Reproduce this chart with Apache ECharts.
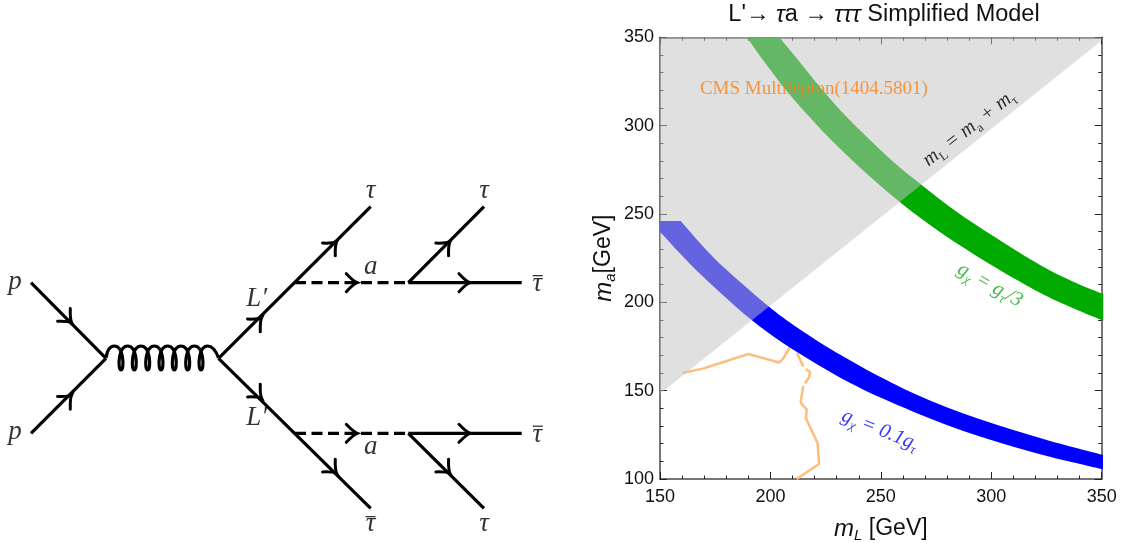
<!DOCTYPE html>
<html><head><meta charset="utf-8">
<style>html,body{margin:0;padding:0;background:#fff}#c{width:1123px;height:543px}</style>
<script src="https://cdn.jsdelivr.net/npm/echarts@6/dist/echarts.min.js"></script></head>
<body><div id="c"></div>
<script>
const ticksMajor = 50;
const greenUpper = [[204,350],[211.9,338.1],[221,324],[231.5,308.9],[242.8,294.7],[255.6,279.6],[268.5,266.4],[284.3,251.3],[302.5,236.2],[322.1,221.1],[337.1,211.7],[350.7,204.7]];
const greenLower = [[189.3,350],[198.3,334.3],[208.9,317.3],[221,300.4],[233,285.2],[245.9,270.2],[258.7,256.6],[269.2,246.6],[284.3,233.4],[302.5,219.3],[322.1,205.4],[337.1,196.6],[350.7,189.6]];
const blueUpper = [[150,246],[159.4,246],[169.6,231.5],[180.2,218.3],[199,197.9],[210.4,187.2],[225.5,174.9],[240.6,164],[249.6,157.9],[264.7,148.5],[279.8,140.6],[294.9,133.8],[310,127.7],[325.1,122.1],[340.2,117],[350.6,113.6]];
const blueLower = [[150,240],[159.1,227.7],[168.1,216.2],[178.7,203.9],[191.5,190],[205.8,176.8],[222.4,164],[237.5,153.5],[249.6,146.2],[264.7,138.1],[279.8,130.6],[294.9,124],[310,118.3],[325.1,113],[340.2,108.5],[350.6,105.5]];
const allowedRegion = [[150,148.2],[150,350],[350,350],[350,348.2]];
const cmsLimit = [[160.3,160],[169.6,162.5],[190,170.7],[204,166],[205.8,168.3],[209,175],[null,null],[212,171.5],[214.9,163.6],[null,null],[216,162.2],[217.9,160.7],[217.6,157.9],[215.7,154.2],[null,null],[214.9,152.6],[213.7,143.8],[214.2,142.3],[216.4,139.4],[216.1,134.3],[221.4,120.2],[222,108.5],[211.9,100]];
const plotLabels = [
  {at:[219.7,320.7], text:'CMS Multilepton(1404.5801)', font:'o', rotate:0},
  {at:[290,298.5], text:'{k|m}{ks|L}{k| = m}{ks|a}{k| + m}{ks|τ}', font:'k', rotate:38},
  {at:[299.4,209.8], text:'{g|g}{gs|χ}{g| = g}{gs|τ}{g|/3}', font:'g', rotate:-29},
  {at:[249.6,127.7], text:'{b|g}{bs|χ}{b| = 0.1g}{bs|τ}', font:'b', rotate:-22}
];
/* Feynman diagram, in the diagram panel's own units */
const solidLines = [
  [[31,282.7],[106,358.3]],[[31,433.3],[106,358.3]],
  [[218.5,358.3],[370.7,206.7]],[[218.5,358.3],[370.7,508.3]],
  [[408.3,282.7],[484,206.7]],[[408.3,282.7],[521.7,282.7]],
  [[408.3,433.3],[521.7,433.3]],[[408.3,433.3],[484,508.3]]
];
const dashedLines = [[[295,282.7],[408.3,282.7]],[[295,433.3],[408.3,433.3]]];
const barMarks = [[[532.7,275.7],[542.7,275.7]],[[532.7,426.2],[542.7,426.2]],[[365.5,516.7],[375.5,516.7]]];
const arrowTips = [
  [71.7,322.7,1,1],[71.7,395,1,-1],[261.7,317.7,1,-1],[261.7,398.3,1,1],
  [336.7,241.7,1,-1],[336.7,473.3,1,1],[357.3,282.7,1,0],[357.3,433.3,1,0],
  [450,241.7,1,-1],[450,473.3,1,1],[470,282.7,1,0],[470,433.3,1,0]
];
const gluonCoils = [[121,358],[134.3,358],[147.7,358],[161,358],[174.3,358],[187.7,358],[201,358]];
const diagramLabels = [
  [15,281.7,'p'],[15,431.7,'p'],[256.7,299.3,'L′'],[256.7,418.3,'L′'],
  [370.7,190.7,'τ'],[484,190.7,'τ'],[537.3,284,'τ'],[537.3,434.5,'τ'],
  [370.7,266.7,'a'],[370.7,447.3,'a'],[370.7,524,'τ'],[484,524,'τ']
];
const SANS = '"Liberation Sans",Arial,sans-serif', SERIF = '"Liberation Serif",serif';

function splinePath(pts){
  let d = '';
  for(let i=0;i<pts.length-1;i++){
    const a=pts[Math.max(i-1,0)], b=pts[i], c=pts[i+1], e=pts[Math.min(i+2,pts.length-1)];
    d+=`C${b[0]+(c[0]-a[0])/6} ${b[1]+(c[1]-a[1])/6} ${c[0]-(e[0]-b[0])/6} ${c[1]-(e[1]-b[1])/6} ${c[0]} ${c[1]}`;
  }
  return d;
}
function bandSeries(upper, lower, fill, lead){
  const all = upper.concat(lower.slice().reverse());
  return {type:'custom', xAxisIndex:0, yAxisIndex:0, z:3, silent:true, clip:false, data:all,
    renderItem(params, api){
      if(params.dataIndex!==0) return null;
      const U=upper.map(p=>api.coord(p)), L=lower.map(p=>api.coord(p)).reverse();
      const Us=U.slice(lead);
      let d=`M${U[0][0]} ${U[0][1]}`;
      if(lead) d+=`L${Us[0][0]} ${Us[0][1]}`;
      d+=splinePath(Us)+`L${L[0][0]} ${L[0][1]}`+splinePath(L)+'Z';
      return {type:'path', shape:{pathData:d}, style:{fill}};
    }};
}
function polygonSeries(points, fill, z){
  return {type:'custom', xAxisIndex:0, yAxisIndex:0, z, silent:true, clip:false, data:points,
    renderItem(params, api){
      if(params.dataIndex!==0) return null;
      return {type:'polygon', shape:{points:points.map(p=>api.coord(p))}, style:{fill}};
    }};
}
function frameAxis(pos, extra){
  return Object.assign({type:'value', min:150, max:350, interval:ticksMajor, position:pos, gridIndex:0, splitLine:{show:false},
    minorTick:{show:true, splitNumber:5, length:3.5, lineStyle:{color:'#222',width:1}},
    axisTick:{show:true, inside:true, length:7, lineStyle:{color:'#222',width:1}},
    axisLine:{show:true, onZero:false, lineStyle:{color:'#4a4a4a',width:1.5}}}, extra);
}
const rich = c => ({fontFamily:SERIF, fontStyle:'italic', fontSize:20.5, color:c, lineHeight:26, verticalAlign:'middle'});
const richS = (c,st) => ({fontFamily:SERIF, fontStyle:st, fontSize:13, color:c, lineHeight:26, verticalAlign:'bottom'});
const plotRich = {
  k:rich('#000'), ks:richS('#000','normal'),
  g:rich('#1aa81a'), gs:richS('#1aa81a','italic'),
  b:rich('#0000ff'), bs:richS('#0000ff','italic')
};
const nameRich = {m:{fontFamily:SANS,fontStyle:'italic',fontSize:24,color:'#111',lineHeight:28,verticalAlign:'middle'},
  s:{fontFamily:SANS,fontStyle:'italic',fontSize:15,color:'#111',lineHeight:28,verticalAlign:'bottom'},
  t:{fontFamily:SANS,fontSize:23,color:'#111',lineHeight:28,verticalAlign:'middle'}};
const chart = echarts.init(document.getElementById('c'),null,{renderer:'canvas'});
const series = [];
series.push({type:'line', xAxisIndex:0, yAxisIndex:0, z:2, data:cmsLimit.map(p=>p[0]===null?['-','-']:p), connectNulls:false, symbol:'none',
  lineStyle:{color:'#fdbf80',width:2.6}, animation:false, silent:true});
series.push(bandSeries(greenUpper,greenLower,'#00aa00',0));
series.push(bandSeries(blueUpper,blueLower,'#0000ff',1));
series.push(polygonSeries(allowedRegion,'rgba(195,195,195,0.514)',4));
series.push({type:'scatter', xAxisIndex:0, yAxisIndex:0, z:6, symbolSize:0, silent:true,
  data:plotLabels.map(l=>({value:l.at, label:{show:true, position:'inside', rotate:l.rotate, formatter:l.text,
    rich:plotRich, fontFamily:SERIF, fontSize:19, color:l.font==='o'?'#ff8010':'#222'}}))});
solidLines.concat(dashedLines).forEach((seg,i)=>{
  series.push({type:'line', xAxisIndex:2, yAxisIndex:2, data:seg, symbol:'none', silent:true, z:3,
    lineStyle:{color:'#000', width:3.2, cap:'butt', type:i>=solidLines.length?[11,5.5]:'solid'}});
});
barMarks.forEach(seg=>{
  series.push({type:'line', xAxisIndex:2, yAxisIndex:2, data:seg, symbol:'none', silent:true, z:5,
    lineStyle:{color:'#111', width:1.1}});
});
series.push({type:'custom', xAxisIndex:2, yAxisIndex:2, z:4, silent:true, clip:false, data:arrowTips,
  renderItem(p, api){
    const [x,y]=api.coord([api.value(0),api.value(1)]);
    const dx=api.value(2), dy=api.value(3), n=Math.hypot(dx,dy), ux=dx/n, uy=dy/n, px=-uy, py=ux;
    const b=(s)=>[x-11*ux+s*9*px, y-11*uy+s*9*py], c=(s)=>[x-4*ux+s*1.5*px, y-4*uy+s*1.5*py];
    const A=b(1),B=b(-1),C1=c(1),C2=c(-1);
    return {type:'path', shape:{pathData:`M${A[0]} ${A[1]}Q${C1[0]} ${C1[1]} ${x} ${y}Q${C2[0]} ${C2[1]} ${B[0]} ${B[1]}`},
      style:{fill:'none', stroke:'#000', lineWidth:3, lineCap:'round'}};
  }});
series.push({type:'custom', xAxisIndex:2, yAxisIndex:2, z:4, silent:true, clip:false, data:gluonCoils,
  renderItem(params, api){
    if(params.dataIndex!==0) return null;
    const pts=gluonCoils.map(p=>api.coord(p));
    const top=-12, bot=12, hs=6.67; let d=`M106 358C107 351 109 ${pts[0][1]+top} ${pts[0][0]-hs} ${pts[0][1]+top}`;
    pts.forEach(([x,y])=>{
      d+=`C${x+3} ${y+top} ${x+3.5} ${y+bot} ${x} ${y+bot}C${x-3.5} ${y+bot} ${x-3} ${y+top} ${x+hs} ${y+top}`;
    });
    d+=`C${pts[6][0]+12} ${pts[6][1]+top} ${pts[6][0]+15} ${pts[6][1]-7} 218.5 358`;
    return {type:'path', shape:{pathData:d},
      style:{fill:'none', stroke:'#000', lineWidth:3.2}};
  }});
series.push({type:'scatter', xAxisIndex:2, yAxisIndex:2, z:5, symbolSize:0, silent:true,
  data:diagramLabels.map(l=>({value:[l[0],l[1]], label:{show:true, position:'inside', formatter:l[2],
    fontFamily:SERIF, fontStyle:'italic', fontSize:27, color:'#000'}}))});

chart.setOption({
  animation:false, backgroundColor:'#fff',
  title:{left:879, top:-2, textAlign:'center',
    text:"L'→ {i|τ}a → {i|τττ} Simplified Model",
    textStyle:{fontFamily:SANS, fontSize:23.5, fontWeight:'normal', color:'#111',
      rich:{i:{fontFamily:SANS, fontStyle:'italic', fontSize:23.5, color:'#111'}}}},
  grid:[{left:660, top:37.3, width:441.7, height:441.7, containLabel:false, outerBoundsMode:'none'},
        {left:0, top:0, width:1123, height:543, show:false, outerBoundsMode:'none'}],
  xAxis:[
    frameAxis('bottom',{nameLocation:'middle', nameGap:36, name:'{m|m}{s|L}{t| [GeV]}',
      nameTextStyle:{rich:nameRich},
      axisLabel:{fontFamily:SANS,fontSize:18,color:'#111',margin:9,showMinLabel:true,showMaxLabel:true}}),
    frameAxis('top',{axisLabel:{show:false}}),
    {type:'value', gridIndex:1, min:0, max:1123, show:false}
  ],
  yAxis:[
    frameAxis('left',{nameLocation:'middle', nameGap:42, nameRotate:90, name:'{m|m}{s|a}{t|[GeV]}',
      nameTextStyle:{rich:nameRich},
      min:100, axisLabel:{fontFamily:SANS,fontSize:18,color:'#111',margin:6,showMinLabel:true,showMaxLabel:true}}),
    frameAxis('right',{min:100, axisLabel:{show:false}}),
    {type:'value', gridIndex:1, min:0, max:543, inverse:true, show:false}
  ],
  series
});
</script></body></html>
